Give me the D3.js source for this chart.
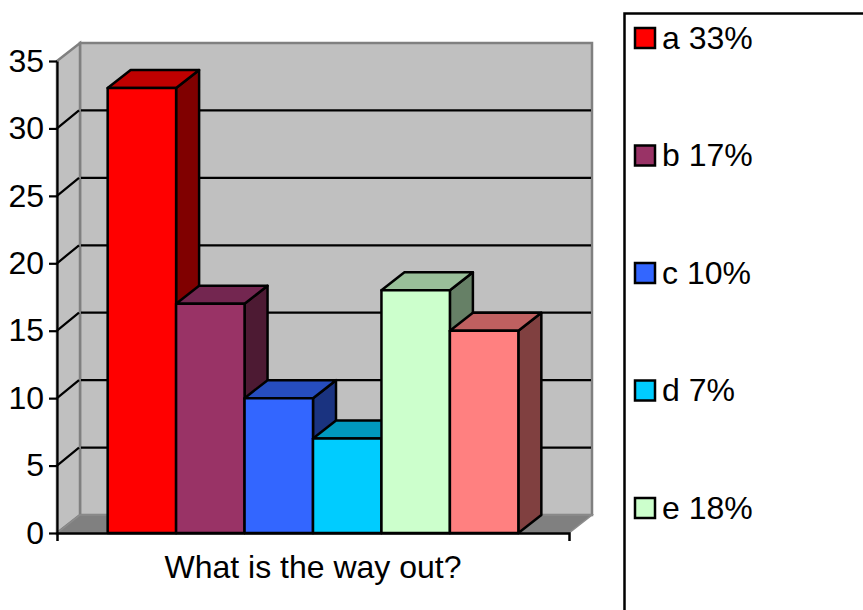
<!DOCTYPE html>
<html>
<head>
<meta charset="utf-8">
<script src="https://d3js.org/d3.v7.min.js"></script>
<style>
  html, body { margin: 0; padding: 0; background: #fff; overflow: hidden; }
  svg { display: block; }
  text { font-family: "Liberation Sans", Arial, sans-serif; fill: #000; }
</style>
</head>
<body>
<svg width="863" height="610"></svg>
<script>
var names = ["a", "b", "c", "d", "e", "f"];
var values = [33, 17, 10, 7, 18, 15];
var fronts = ["#ff0000", "#993366", "#3366ff", "#00ccff", "#ccffcc", "#ff8080"];
var tops = ["#bf0000", "#732650", "#264dbf", "#0099bf", "#99bf99", "#bf6060"];
var sides = ["#800000", "#4d1a33", "#1a3380", "#006680", "#668066", "#804040"];
var yTicks = [0, 5, 10, 15, 20, 25, 30, 35];
var category = ["What is the way out?"];
// the sixth legend entry falls below the bottom of the picture
var legendNames = ["a 33%", "b 17%", "c 10%", "d 7%", "e 18%"];

var svg = d3.select("svg");
var dx = 23, dy = -18;

var y = d3.scaleLinear().domain([0, 35]).range([533, 61]);
var xOuter = d3.scaleBand().domain(category).range([57, 569]);
var x = d3.scaleBand().domain(names).range([57, 569]).paddingInner(0).paddingOuter(0.74);

function poly(points) {
  return "M" + points.map(function(p) { return p.join(","); }).join("L") + "Z";
}

// walls and floor
var x0 = 57, x1 = 569, y0 = y(0), yMax = y(35);
svg.append("path")
    .attr("d", poly([[x0 + dx, yMax + dy], [x1 + dx, yMax + dy], [x1 + dx, y0 + dy], [x0 + dx, y0 + dy]]))
    .attr("fill", "#c0c0c0").attr("stroke", "#808080").attr("stroke-width", 2.5);
svg.append("path")
    .attr("d", poly([[x0, yMax], [x0 + dx, yMax + dy], [x0 + dx, y0 + dy], [x0, y0]]))
    .attr("fill", "#c0c0c0").attr("stroke", "#808080").attr("stroke-width", 2.5);
svg.append("path")
    .attr("d", poly([[x0, y0], [x0 + dx, y0 + dy], [x1 + dx, y0 + dy], [x1, y0]]))
    .attr("fill", "#808080").attr("stroke", "#8c8c8c").attr("stroke-width", 1.5);

// gridlines
var grid = yTicks.filter(function(d) { return d > 0 && d < 35; });
svg.selectAll(".grid").data(grid).enter().append("path")
    .attr("class", "grid")
    .attr("fill", "none").attr("stroke", "#000").attr("stroke-width", 2.2)
    .attr("d", function(d) {
      return "M" + x0 + "," + y(d) + "L" + (x0 + dx - 1) + "," + (y(d) + dy) +
             "M" + (x0 + dx + 1) + "," + (y(d) + dy) + "L" + (x1 + dx - 1) + "," + (y(d) + dy);
    });

// bars, left to right so each front covers the side of the one before
var bars = svg.selectAll(".bar").data(names).enter().append("g")
    .attr("class", "bar")
    .attr("stroke", "#000").attr("stroke-width", 2.5).attr("stroke-linejoin", "round");

bars.append("path")
    .attr("fill", function(d, i) { return sides[i]; })
    .attr("d", function(d, i) {
      var r = x(d) + x.bandwidth(), t = y(values[i]);
      return poly([[r, t], [r + dx, t + dy], [r + dx, y0 + dy], [r, y0]]);
    });
bars.append("path")
    .attr("fill", function(d, i) { return tops[i]; })
    .attr("d", function(d, i) {
      var l = x(d), r = l + x.bandwidth(), t = y(values[i]);
      return poly([[l, t], [l + dx, t + dy], [r + dx, t + dy], [r, t]]);
    });
bars.append("rect")
    .attr("fill", function(d, i) { return fronts[i]; })
    .attr("x", function(d) { return x(d); })
    .attr("y", function(d, i) { return y(values[i]); })
    .attr("width", x.bandwidth())
    .attr("height", function(d, i) { return y0 - y(values[i]); });

// axes
var yAxis = svg.append("g")
    .attr("transform", "translate(" + x0 + ",0)")
    .call(d3.axisLeft(y).tickValues(yTicks).tickSizeInner(8).tickSizeOuter(0).tickPadding(5));
var xAxis = svg.append("g")
    .attr("transform", "translate(0," + y0 + ")")
    .call(d3.axisBottom(xOuter).tickSizeInner(0).tickSizeOuter(8).tickPadding(22));

yAxis.selectAll("text").style("font-size", "32px").style("font-family", "'Liberation Sans', Arial, sans-serif");
xAxis.selectAll("text").style("font-size", "32px").style("font-family", "'Liberation Sans', Arial, sans-serif");
yAxis.selectAll("line, path").attr("stroke", "#000").attr("stroke-width", 2.2);
xAxis.selectAll("line, path").attr("stroke", "#000").attr("stroke-width", 2.5);

// legend frame runs off the right and bottom of the picture
svg.append("path")
    .attr("d", "M863,13.5H624.5V610")
    .attr("fill", "none").attr("stroke", "#000").attr("stroke-width", 2.5);

var legendY = d3.scalePoint().domain(legendNames).range([38, 508]);
var legend = svg.selectAll(".legend").data(legendNames).enter().append("g")
    .attr("class", "legend")
    .attr("transform", function(d) { return "translate(635," + legendY(d) + ")"; });
legend.append("rect")
    .attr("x", 0).attr("y", -10).attr("width", 20).attr("height", 20)
    .attr("fill", function(d, i) { return fronts[i]; })
    .attr("stroke", "#000").attr("stroke-width", 2.5);
legend.append("text")
    .attr("x", 27).attr("y", 10.5)
    .style("font-size", "32px")
    .text(function(d) { return d; });
</script>
</body>
</html>
